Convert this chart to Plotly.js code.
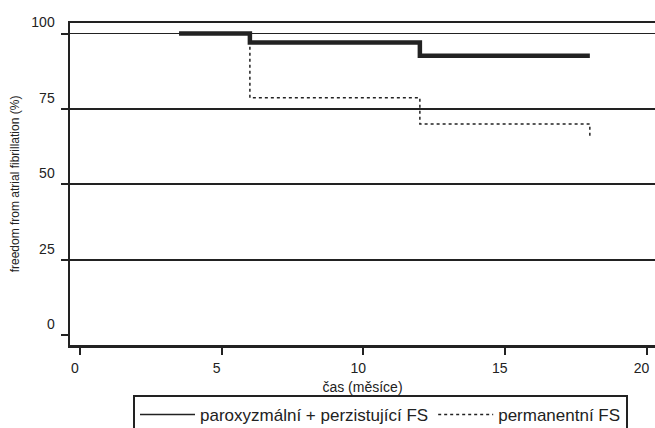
<!DOCTYPE html>
<html>
<head>
<meta charset="utf-8">
<script src="https://cdn.plot.ly/plotly-3.0.1.min.js"></script>
<style>html,body{margin:0;padding:0;background:#fff;}#chart{width:655px;height:428px;}</style>
</head>
<body>
<div id="chart"></div>
<script>
// Data
const seriesNames = ["paroxyzmální + perzistující FS", "permanentní FS"];
const monthsParox = [3.5, 6, 12, 18];
const freedomParox = [100, 97, 92.6, 92.6];
const monthsPerm = [3.5, 6, 12, 18];
const freedomPerm = [100, 78.7, 70, 66];
const xTicks = [0, 5, 10, 15, 20];
const yTicks = [0, 25, 50, 75, 100];

const ink = "#222";
const font = "Liberation Sans, Arial, sans-serif";
const nb = "\u00a0";

const traces = [
  {x: monthsPerm, y: freedomPerm, mode: "lines", line: {shape: "hv", color: ink, width: 1.5, dash: "dot"}, showlegend: false, hoverinfo: "skip"},
  {x: monthsParox, y: freedomParox, mode: "lines", line: {shape: "hv", color: ink, width: 4.5}, showlegend: false, hoverinfo: "skip"},
  {x: [null], y: [null], mode: "lines", name: seriesNames[0], line: {color: ink, width: 1.5}},
  {x: [null], y: [null], mode: "lines", name: seriesNames[1], line: {color: ink, width: 1.5, dash: "dot"}}
];

const layout = {
  width: 655, height: 428,
  margin: {l: 70, r: 0, t: 23, b: 83, autoexpand: false},
  paper_bgcolor: "#fff", plot_bgcolor: "#fff",
  font: {family: font, color: ink, size: 14},
  showlegend: true,
  xaxis: {
    range: [-0.35, 20.3], tickvals: xTicks, ticktext: xTicks.map(String),
    ticks: "outside", ticklen: 7, tickwidth: 2, tickcolor: ink,
    showline: true, linecolor: ink, linewidth: 2.5, mirror: true,
    showgrid: false, zeroline: false,
    ticklabelshift: -5, ticklabelstandoff: 2,
    tickfont: {size: 14, color: ink},
    title: {text: "čas (měsíce)", font: {size: 14, color: ink}, standoff: 7}
  },
  yaxis: {
    range: [-3.3, 103.5], tickvals: yTicks, ticktext: yTicks.map(String),
    ticks: "outside", ticklen: 7, tickwidth: 2, tickcolor: ink,
    showline: true, linecolor: ink, linewidth: 2.5,
    showgrid: true, gridcolor: ink, gridwidth: 1.8,
    zeroline: true, zerolinecolor: "rgba(0,0,0,0)", zerolinewidth: 0.1,
    ticklabelshift: -11, ticklabelstandoff: 3,
    tickfont: {size: 14, color: ink},
    title: {text: "freedom from atrial fibrillation (%)" + nb.repeat(5), font: {size: 12, color: ink}, standoff: 9}
  },
  legend: {
    orientation: "h", x: 0.1077, xanchor: "left", y: -0.155, yanchor: "top",
    bordercolor: ink, borderwidth: 2, bgcolor: "#fff",
    font: {size: 17, color: ink}, itemwidth: 55
  }
};

Plotly.newPlot("chart", traces, layout, {staticPlot: true, displayModeBar: false});
</script>
</body>
</html>
